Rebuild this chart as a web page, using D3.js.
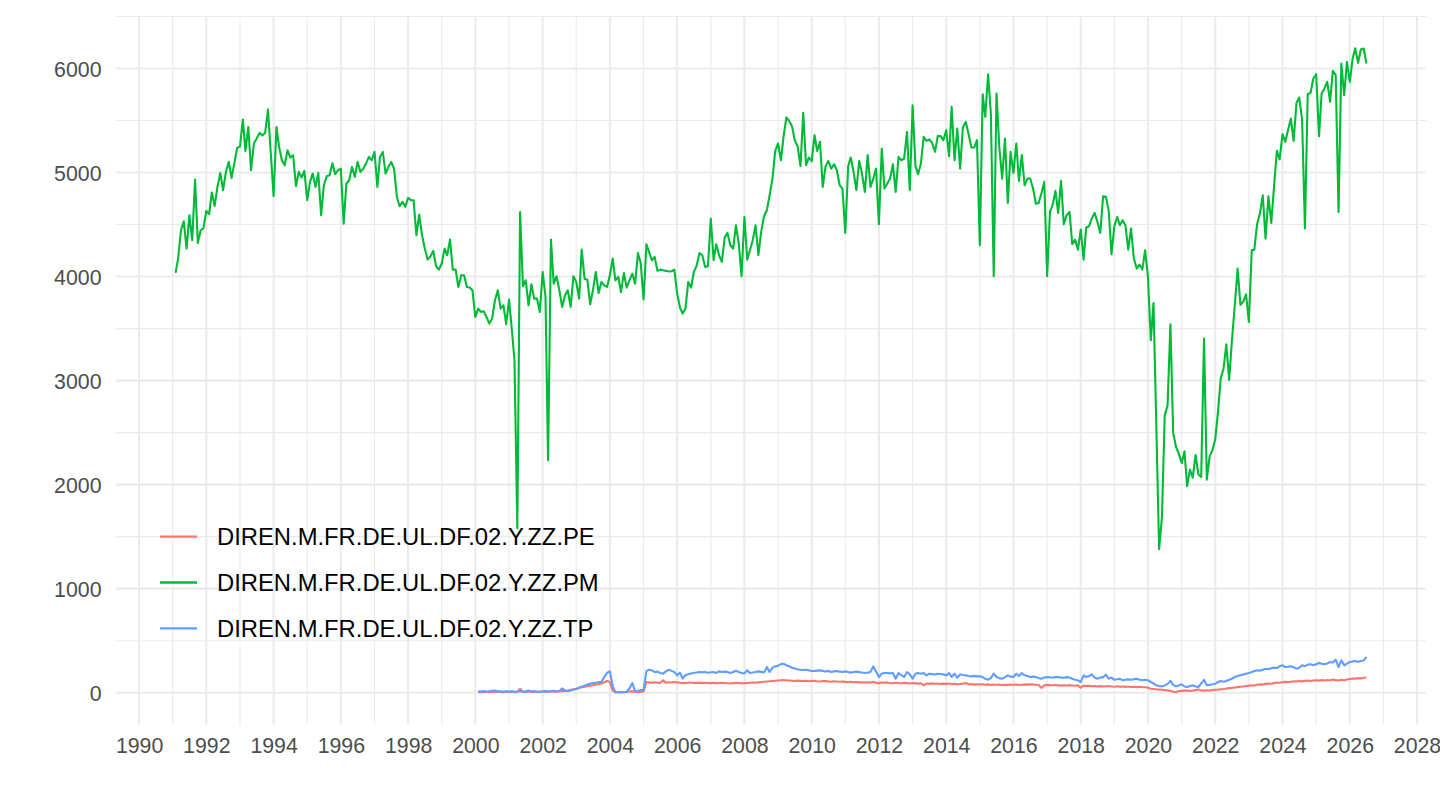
<!DOCTYPE html>
<html>
<head>
<meta charset="utf-8">
<script src="https://cdn.jsdelivr.net/npm/d3@7"></script>
<style>
  html, body { margin: 0; padding: 0; background: #fff; }
  svg { display: block; font-family: "Liberation Sans", Arial, Helvetica, sans-serif; }
</style>
</head>
<body>
<svg id="chart" width="1440" height="810"></svg>
<script>
(function(){
'use strict';

    // monthly series
    var pmStart = '1991-02-01';
    var pmValues = [
        4035, 4173, 4445, 4532, 4269, 4590, 4349, 4933, 4323, 4445, 4465,            // 1991
        4631, 4600, 4808, 4679, 4862, 4996, 4830, 5006, 5102, 4948, 5090, 5237,      // 1992
        5250, 5510, 5208, 5438, 5022, 5279, 5327, 5381, 5356, 5381, 5606, 5190,      // 1993
        4772, 5438, 5250, 5118, 5070, 5214, 5144, 5167, 4868, 5006, 4952, 5016,      // 1994
        4734, 4910, 4990, 4862, 4996, 4590, 4878, 4965, 4974, 5090, 4984, 5022,      // 1995
        5038, 4509, 4894, 4926, 5054, 4958, 5102, 5006, 5038, 5086, 5150, 5118,      // 1996
        5198, 4862, 5150, 5198, 4990, 5054, 5102, 5038, 4765, 4676, 4718, 4670,      // 1997
        4758, 4734, 4734, 4397, 4596, 4397, 4269, 4163, 4195, 4247, 4099, 4067,      // 1998
        4125, 4269, 4205, 4355, 4067, 4067, 3900, 4012, 4012, 3900, 3894, 3868,      // 1999
        3611, 3692, 3660, 3666, 3611, 3548, 3596, 3772, 3868, 3692, 3724, 3542,      // 2000
        3778, 3484, 3195, 1580, 4621, 3907, 3964, 3724, 3926, 3788, 3788, 3660,      // 2001
        4044, 3804, 2234, 4356, 3932, 4003, 3868, 3708, 3820, 3868, 3708, 4003,      // 2002
        3948, 3788, 4260, 3980, 3970, 3734, 3868, 4044, 3842, 3948, 3916, 3900,      // 2003
        4012, 4173, 3964, 3996, 3852, 4035, 3894, 3964, 4028, 3932, 4227, 4131,      // 2004
        3779, 4311, 4237, 4157, 4189, 4055, 4067, 4060, 4055, 4048, 4051, 4067,      // 2005
        3836, 3702, 3644, 3692, 3948, 3894, 4044, 4108, 4227, 4205, 4092, 4099,      // 2006
        4558, 4157, 4311, 4205, 4141, 4375, 4420, 4301, 4269, 4493, 4317, 4003,      // 2007
        4573, 4163, 4253, 4349, 4493, 4205, 4429, 4580, 4637, 4781, 4942, 5208,      // 2008
        5279, 5118, 5343, 5529, 5497, 5446, 5310, 5253, 5061, 5573, 5071, 5144,      // 2009
        5109, 5359, 5208, 5295, 4862, 5061, 5112, 5038, 5080, 5022, 4878, 4846,      // 2010
        4420, 5061, 5144, 5006, 4830, 5112, 4990, 4814, 5167, 4862, 4942, 5038,      // 2011
        4503, 5231, 4846, 4894, 4942, 5080, 4814, 5150, 5118, 5134, 5391, 4830,      // 2012
        5647, 5061, 4984, 5086, 5343, 5304, 5317, 5285, 5199, 5350, 5350, 5311,      // 2013
        5407, 5157, 5631, 5118, 5423, 5038, 5433, 5487, 5369, 5240, 5240, 5311,      // 2014
        4301, 5753, 5535, 5945, 5567, 4003, 5760, 5240, 4942, 5327, 4708, 5199,      // 2015
        4997, 5279, 4920, 5167, 4878, 4942, 4942, 4846, 4700, 4708, 4804, 4910,      // 2016
        4003, 4621, 4686, 4824, 4612, 4920, 4503, 4590, 4621, 4311, 4355, 4259,      // 2017
        4451, 4163, 4471, 4484, 4558, 4612, 4526, 4420, 4772, 4766, 4631, 4214,      // 2018
        4484, 4574, 4494, 4542, 4494, 4259, 4461, 4173, 4077, 4115, 4067, 4253,      // 2019
        3996, 3388, 3746, 2560, 1380, 1689, 2666, 2762, 3541, 2496, 2362, 2298,      // 2020
        2208, 2320, 1984, 2144, 2067, 2285, 2099, 2073, 3404, 2048, 2272, 2330,      // 2021
        2439, 2708, 3019, 3115, 3349, 3006, 3385, 3724, 4077, 3728, 3760, 3830,      // 2022
        3564, 4253, 4259, 4509, 4606, 4782, 4365, 4772, 4516, 4862, 5208, 5125,      // 2023
        5368, 5295, 5407, 5519, 5304, 5669, 5721, 5509, 4462, 5753, 5766, 5904,      // 2024
        5945, 5349, 5760, 5808, 5872, 5680, 5977, 5936, 4621, 6048, 5744, 6064,      // 2025
        5872, 6096, 6195, 6055, 6182, 6192, 6048                                     // 2026
    ];

    var peStart = '2000-02-01';
    var peValues = [
        6, 8, 5, 9, 6, 10, 7, 12, 8, 6, 9,                          // 2000
        7, 10, 6, 8, 38, 9, 6, 11, 8, 10, 7, 9,                     // 2001
        12, 8, 10, 14, 9, 13, 11, 15, 18, 22, 28, 33,               // 2002
        38, 45, 52, 58, 63, 68, 72, 78, 82, 88, 100, 112,           // 2003
        103, 20, 6, 4, 7, 5, 8, 12, 15, 9, 6, 10,                   // 2004
        12, 103, 99, 96, 100, 97, 95, 119, 96, 100, 98, 103,        // 2005
        99, 95, 92, 94, 96, 98, 93, 95, 97, 92, 96, 94,             // 2006
        92, 95, 90, 93, 96, 94, 91, 88, 92, 95, 93, 90,             // 2007
        92, 94, 96, 98, 95, 99, 102, 105, 108, 110, 113, 115,       // 2008
        118, 120, 122, 119, 117, 115, 112, 116, 114, 112, 115, 110, // 2009
        112, 114, 110, 108, 111, 113, 109, 106, 110, 108, 105, 107, // 2010
        104, 102, 105, 100, 103, 99, 101, 98, 100, 97, 103, 96,     // 2011
        92, 98, 95, 99, 94, 90, 96, 93, 88, 95, 92, 89,             // 2012
        93, 90, 87, 91, 71, 88, 85, 90, 86, 89, 84, 87,             // 2013
        85, 88, 83, 86, 82, 84, 87, 93, 80, 83, 78, 81,             // 2014
        79, 82, 77, 80, 75, 78, 76, 79, 74, 77, 75, 78,             // 2015
        76, 79, 74, 77, 80, 78, 82, 79, 76, 74, 45, 72,             // 2016
        75, 73, 70, 74, 71, 68, 72, 69, 73, 70, 67, 71,             // 2017
        48, 68, 64, 66, 62, 65, 60, 63, 59, 62, 64, 60,             // 2018
        58, 62, 57, 60, 56, 59, 55, 58, 54, 57, 53, 52,             // 2019
        48, 38, 35, 32, 30, 28, 25, 22, 18, 10, 4, 15,              // 2020
        18, 20, 22, 18, 20, 25, 30, 22, 20, 24, 22, 26,             // 2021
        28, 30, 33, 36, 40, 44, 46, 50, 54, 58, 60, 64,             // 2022
        68, 72, 70, 76, 80, 78, 85, 88, 86, 92, 98, 95,             // 2023
        100, 104, 101, 106, 110, 107, 112, 109, 114, 118, 113, 117, // 2024
        120, 116, 121, 118, 123, 119, 126, 121, 117, 124, 120, 127, // 2025
        132, 136, 134, 140, 138, 142, 148                           // 2026
    ];

    var tpStart = '2000-02-01';
    var tpValues = [
        13, 12, 15, 10, 14, 18, 22, 12, 14, 10, 13,                 // 2000
        12, 14, 9, 11, 15, 10, 13, 20, 12, 16, 10, 8,               // 2001
        12, 15, 10, 14, 18, 12, 16, 41, 20, 14, 22, 29,             // 2002
        35, 50, 58, 68, 78, 85, 93, 96, 101, 106, 150, 192,         // 2003
        205, 60, 6, 4, 8, 5, 10, 40, 93, 12, 16, 25,                // 2004
        29, 208, 221, 215, 199, 203, 190, 183, 205, 221, 210, 200,  // 2005
        167, 193, 135, 170, 177, 185, 190, 195, 199, 196, 200, 192, // 2006
        196, 199, 190, 205, 199, 203, 199, 190, 199, 211, 199, 190, // 2007
        186, 215, 190, 195, 199, 205, 200, 195, 247, 199, 241, 253, // 2008
        260, 275, 279, 263, 255, 240, 232, 225, 221, 218, 221, 215, // 2009
        210, 209, 212, 215, 210, 203, 209, 199, 205, 208, 203, 199, // 2010
        205, 199, 193, 199, 203, 198, 195, 190, 193, 199, 253, 205, // 2011
        151, 183, 189, 190, 186, 189, 135, 189, 170, 151, 199, 176, // 2012
        135, 183, 189, 183, 189, 167, 183, 180, 175, 183, 180, 176, // 2013
        167, 189, 151, 183, 144, 176, 170, 167, 160, 157, 162, 157, // 2014
        157, 150, 135, 125, 140, 183, 151, 140, 135, 150, 167, 155, // 2015
        151, 183, 160, 189, 167, 160, 151, 155, 151, 140, 135, 145, // 2016
        151, 148, 144, 150, 151, 145, 144, 150, 146, 135, 125, 119, // 2017
        103, 167, 151, 160, 176, 145, 135, 145, 150, 173, 135, 145, // 2018
        124, 130, 135, 119, 124, 128, 124, 130, 135, 125, 119, 124, // 2019
        120, 103, 90, 71, 65, 61, 70, 85, 113, 75, 61, 70,          // 2020
        81, 60, 55, 65, 71, 60, 55, 90, 124, 71, 75, 81,            // 2021
        87, 103, 112, 105, 113, 125, 135, 151, 160, 167, 175, 183,  // 2022
        190, 199, 209, 215, 212, 221, 231, 225, 235, 241, 237, 255, // 2023
        263, 247, 250, 255, 245, 231, 240, 263, 255, 270, 273, 265, // 2024
        273, 286, 279, 273, 280, 295, 290, 317, 247, 311, 263, 280, // 2025
        295, 300, 305, 298, 305, 310, 343                           // 2026
    ];

    var seriesNames = ['DIREN.M.FR.DE.UL.DF.02.Y.ZZ.PE', 'DIREN.M.FR.DE.UL.DF.02.Y.ZZ.PM', 'DIREN.M.FR.DE.UL.DF.02.Y.ZZ.TP'];
    var seriesColors = ['#F8766D', '#00BA38', '#619CFF'];
    var xTickYears = d3.range(1990, 2029, 2);
    var yTickValues = d3.range(0, 6001, 1000);

    var width = 1440, height = 810,
        panel = {left: 116, right: 1426, top: 16, bottom: 724.5};

    var toSeries = function(start, values) {
        var d0 = new Date(start + 'T00:00:00Z');
        return values.map(function(v, i) { return {date: d3.utcMonth.offset(d0, i), value: v}; });
    };

    var series = [
        {name: seriesNames[0], color: seriesColors[0], points: toSeries(peStart, peValues)},
        {name: seriesNames[1], color: seriesColors[1], points: toSeries(pmStart, pmValues)},
        {name: seriesNames[2], color: seriesColors[2], points: toSeries(tpStart, tpValues)}
    ];

    var allPoints = d3.merge(series.map(function(s) { return s.points; }));

    // ggplot style 5% expansion on both axes
    var expand = function(ext) {
        var pad = (ext[1] - ext[0]) * 0.05;
        return [ext[0] - pad, ext[1] + pad];
    };
    var tExt = expand(d3.extent(allPoints, function(d) { return +d.date; })),
        vExt = expand(d3.extent(allPoints, function(d) { return d.value; }));

    var x = d3.scaleUtc().domain([new Date(tExt[0]), new Date(tExt[1])]).range([panel.left, panel.right]),
        y = d3.scaleLinear().domain(vExt).range([panel.bottom, panel.top]);

    var svg = d3.select('#chart');
    svg.append('rect').attr('width', width).attr('height', height).attr('fill', '#fff');

    var grid = svg.append('g').attr('class', 'grid');
    var inX = function(t) { return t >= x.domain()[0] && t <= x.domain()[1]; },
        inY = function(v) { return v >= vExt[0] && v <= vExt[1]; };

    var yMinor = d3.range(-500, 7001, 1000).filter(inY),
        xMinor = d3.range(1989, 2030, 2).map(function(yr) { return new Date(Date.UTC(yr, 0, 1)); }).filter(inX),
        xMajor = xTickYears.map(function(yr) { return new Date(Date.UTC(yr, 0, 1)); }).filter(inX);

    grid.selectAll('line.ymin').data(yMinor).enter().append('line')
        .attr('class', 'ymin')
        .attr('x1', panel.left).attr('x2', panel.right)
        .attr('y1', function(d) { return y(d); }).attr('y2', function(d) { return y(d); })
        .attr('stroke', '#EBEBEB').attr('stroke-width', 1.1);
    grid.selectAll('line.xmin').data(xMinor).enter().append('line')
        .attr('class', 'xmin')
        .attr('y1', panel.top).attr('y2', panel.bottom)
        .attr('x1', function(d) { return x(d); }).attr('x2', function(d) { return x(d); })
        .attr('stroke', '#EBEBEB').attr('stroke-width', 1.1);
    grid.selectAll('line.ymaj').data(yTickValues).enter().append('line')
        .attr('class', 'ymaj')
        .attr('x1', panel.left).attr('x2', panel.right)
        .attr('y1', function(d) { return y(d); }).attr('y2', function(d) { return y(d); })
        .attr('stroke', '#EBEBEB').attr('stroke-width', 2.1);
    grid.selectAll('line.xmaj').data(xMajor).enter().append('line')
        .attr('class', 'xmaj')
        .attr('y1', panel.top).attr('y2', panel.bottom)
        .attr('x1', function(d) { return x(d); }).attr('x2', function(d) { return x(d); })
        .attr('stroke', '#EBEBEB').attr('stroke-width', 2.1);

    // axes: no domain line, no ticks, grey labels
    var xAxis = d3.axisBottom(x).tickValues(xMajor).tickSize(0).tickPadding(0)
            .tickFormat(d3.utcFormat('%Y')),
        yAxis = d3.axisLeft(y).tickValues(yTickValues).tickSize(0).tickPadding(0)
            .tickFormat(d3.format('d'));

    var gx = svg.append('g').attr('transform', 'translate(0,' + 738 + ')').call(xAxis);
    var gy = svg.append('g').attr('transform', 'translate(' + 101.5 + ',0)').call(yAxis);
    [gx, gy].forEach(function(g) {
        g.select('.domain').remove();
        g.selectAll('text')
            .attr('fill', '#4D4D4D')
            .style('font-family', '"Liberation Sans", Arial, Helvetica, sans-serif')
            .style('font-size', '21.3px');
    });
    gx.selectAll('text').attr('dy', '0.72em');
    gy.selectAll('text').attr('dy', '0.36em');

    var line = d3.line()
        .x(function(d) { return x(d.date); })
        .y(function(d) { return y(d.value); });

    svg.append('g').attr('class', 'series')
        .selectAll('path').data(series).enter().append('path')
        .attr('d', function(d) { return line(d.points); })
        .attr('fill', 'none')
        .attr('stroke', function(d) { return d.color; })
        .attr('stroke-width', 2.1)
        .attr('stroke-linejoin', 'round');

    // legend inside the panel, bottom left
    var legend = svg.append('g').attr('class', 'legend').attr('transform', 'translate(160,536.7)');
    var rows = legend.selectAll('g.row').data(series).enter().append('g')
        .attr('class', 'row')
        .attr('transform', function(d, i) { return 'translate(0,' + (i * 45.8) + ')'; });
    rows.append('line')
        .attr('x1', 0).attr('x2', 37).attr('y1', 0).attr('y2', 0)
        .attr('stroke', function(d) { return d.color; })
        .attr('stroke-width', 2.3);
    rows.append('text')
        .attr('x', 57).attr('y', 0).attr('dy', '0.36em')
        .attr('fill', '#000')
        .style('font-size', '23.8px')
        .text(function(d) { return d.name; });

})();
</script>
</body>
</html>
